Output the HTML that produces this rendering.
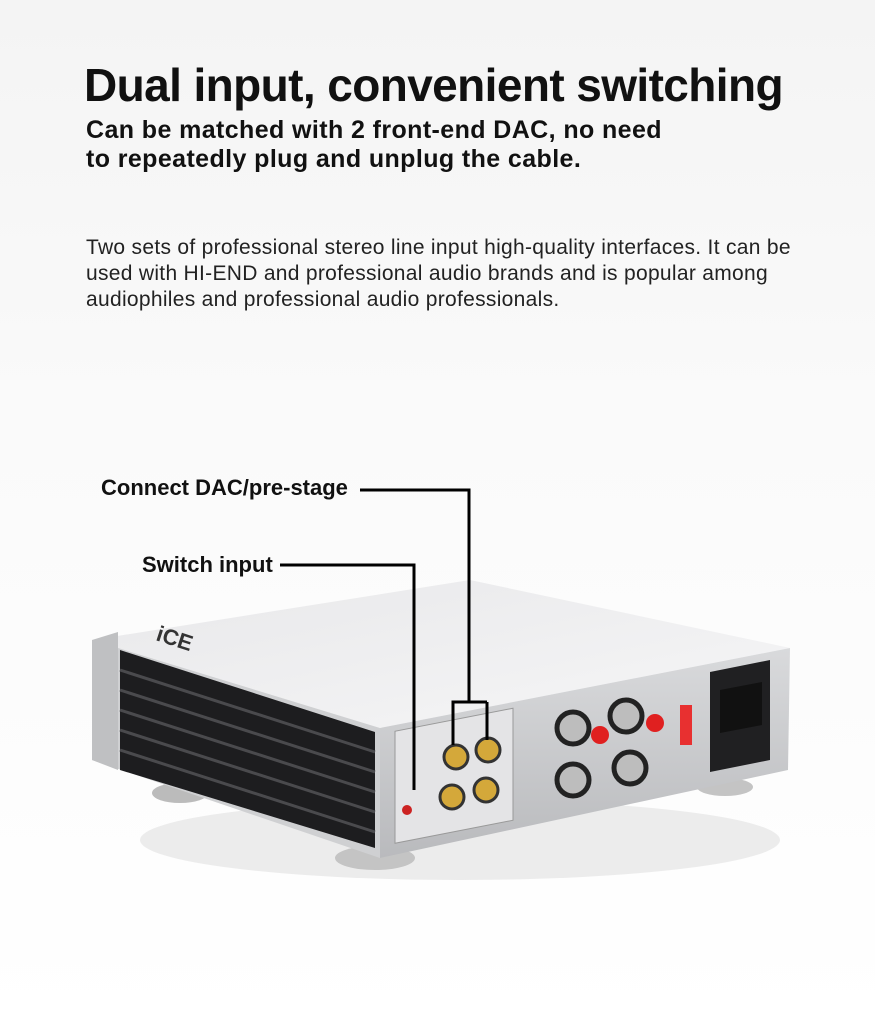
<!DOCTYPE html>
<html><head><meta charset="utf-8"><style>
body{margin:0;width:875px;height:1024px;overflow:hidden;background:linear-gradient(#f4f4f4,#fafafa 40%,#fff);font-family:"Liberation Sans",sans-serif;position:relative;color:#111}
.t{position:absolute;left:84px;top:58px;font-size:46px;font-weight:bold;letter-spacing:-0.6px;white-space:nowrap}
.s{position:absolute;left:86px;top:116px;font-size:25px;font-weight:bold;line-height:29px;letter-spacing:0.4px}
.p{position:absolute;left:86px;top:235px;font-size:21px;line-height:26px;color:#222;letter-spacing:0.3px;white-space:nowrap}
.l{position:absolute;font-size:22px;font-weight:bold;color:#111;white-space:nowrap}
</style></head><body>
<div class="t">Dual input, convenient switching</div>
<div class="s">Can be matched with 2 front-end DAC, no need<br>to repeatedly plug and unplug the cable.</div>
<div class="p">Two sets of professional stereo line input high-quality interfaces. It can be<br>used with HI-END and professional audio brands and is popular among<br>audiophiles and professional audio professionals.</div>
<div class="l" style="left:101px;top:475px">Connect DAC/pre-stage</div>
<div class="l" style="left:142px;top:552px">Switch input</div>
<svg width="875" height="1024" style="position:absolute;left:0;top:0">
<defs><linearGradient id="top" x1="0" y1="0" x2="1" y2="1"><stop offset="0" stop-color="#e8e8ea"/><stop offset="1" stop-color="#f6f6f7"/></linearGradient>
<linearGradient id="fr" x1="0" y1="0" x2="0" y2="1"><stop offset="0" stop-color="#d9dadc"/><stop offset="1" stop-color="#b9babd"/></linearGradient></defs>
<ellipse cx="460" cy="840" rx="320" ry="40" fill="#ccc" opacity=".35"/>
<ellipse cx="180" cy="793" rx="28" ry="10" fill="#bbb"/><ellipse cx="375" cy="858" rx="40" ry="12" fill="#c4c4c4"/><ellipse cx="725" cy="787" rx="28" ry="9" fill="#c4c4c4"/>
<polygon points="92,640 470,580 790,648 380,728" fill="url(#top)"/>
<polygon points="380,728 790,648 788,770 380,858" fill="url(#fr)"/>
<polygon points="92,640 380,728 380,858 92,760" fill="#cfd0d2"/>
<polygon points="120,650 375,732 375,848 120,770" fill="#1d1d1f"/>
<g stroke="#4a4a4d" stroke-width="3">
<line x1="120" y1="670" x2="375" y2="752"/><line x1="120" y1="690" x2="375" y2="772"/><line x1="120" y1="710" x2="375" y2="792"/><line x1="120" y1="730" x2="375" y2="812"/><line x1="120" y1="750" x2="375" y2="832"/></g>
<polygon points="92,640 118,632 118,770 92,760" fill="#bfc0c2"/>
<rect x="395" y="722" width="118" height="112" fill="#e4e4e6" stroke="#999" transform="skewY(-11) translate(0,86)"/>
<text x="155" y="640" font-size="22" font-weight="bold" fill="#333" transform="rotate(18 155 640)">iCE</text>
<polygon points="710,672 770,660 770,760 710,772" fill="#202022"/>
<polygon points="720,690 762,682 762,725 720,733" fill="#111"/>
<rect x="680" y="705" width="12" height="40" fill="#e83030"/>
<g fill="#d4a83a" stroke="#333" stroke-width="3">
<circle cx="456" cy="757" r="12"/><circle cx="488" cy="750" r="12"/><circle cx="452" cy="797" r="12"/><circle cx="486" cy="790" r="12"/></g>
<g fill="#bdbdbd" stroke="#222" stroke-width="5">
<circle cx="573" cy="728" r="16"/><circle cx="626" cy="716" r="16"/><circle cx="573" cy="780" r="16"/><circle cx="630" cy="768" r="16"/></g>
<circle cx="600" cy="735" r="9" fill="#e02020"/><circle cx="655" cy="723" r="9" fill="#e02020"/>
<circle cx="407" cy="810" r="5" fill="#c22"/>
<g fill="none" stroke="#000" stroke-width="3">
<polyline points="360,490 469,490 469,702 453,702 453,745"/><line x1="469" y1="702" x2="487" y2="702"/><line x1="487" y1="702" x2="487" y2="740"/>
<polyline points="280,565 414,565 414,790"/></g>
</svg>
</body></html>
